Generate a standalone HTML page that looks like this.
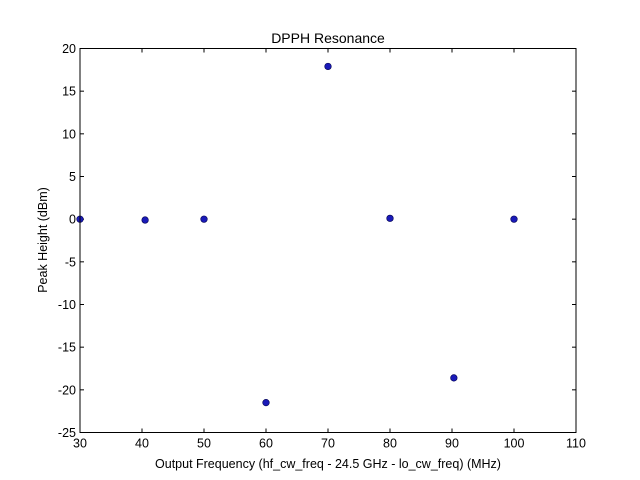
<!DOCTYPE html>
<html><head><meta charset="utf-8"><style>
body{margin:0;background:#fff;}
svg{display:block;font-family:"Liberation Sans",sans-serif;}
</style></head><body>
<svg id="chart" width="640" height="480">
<rect x="0" y="0" width="640" height="480" fill="#fff"/>
<text x="328" y="43" text-anchor="middle" font-size="14">DPPH Resonance</text>
<text x="328" y="468" text-anchor="middle" font-size="12.5">Output Frequency (hf_cw_freq - 24.5 GHz - lo_cw_freq) (MHz)</text>
<text transform="translate(47,240) rotate(-90)" text-anchor="middle" font-size="12.5">Peak Height (dBm)</text>
<g id="ticks"></g>
<g id="points"></g>
<rect x="80" y="48.5" width="496" height="384" fill="none" stroke="#000" stroke-width="1"/>
</svg>
<script>
const xVals=[30,40.5,50,60,70,80,90.3,100];
const yVals=[0,-0.1,0,-21.5,17.9,0.1,-18.6,0];
const xTicks=[30,40,50,60,70,80,90,100,110];
const yTicks=[20,15,10,5,0,-5,-10,-15,-20,-25];
const L=80,R=576,T=48.5,B=432.5;
function sx(v){return L+(v-30)/80*(R-L);}
function sy(v){return T+(20-v)/45*(B-T);}
const NS="http://www.w3.org/2000/svg";
const tg=document.getElementById('ticks');
function mk(tag,attrs,parent){const e=document.createElementNS(NS,tag);for(const k in attrs)e.setAttribute(k,attrs[k]);parent.appendChild(e);return e;}
xTicks.forEach(t=>{
 const x=sx(t);
 const l1=mk('line',{x1:x,x2:x,y1:B,y2:B-4,stroke:'#000'},tg);
 
 
 const l2=mk('line',{x1:x,x2:x,y1:T,y2:T+4,stroke:'#000'},tg);
 
 
 const tx=mk('text',{x:x,y:B+15,'text-anchor':'middle','font-size':'12.5'},tg);
 tx.textContent=t;
 
 
});
yTicks.forEach(t=>{
 const y=sy(t);
 const l1=mk('line',{x1:L,x2:L+4,y1:y,y2:y,stroke:'#000'},tg);
 
 
 const l2=mk('line',{x1:R,x2:R-4,y1:y,y2:y,stroke:'#000'},tg);
 
 
 const tx=mk('text',{x:L-4,y:y+4.5,'text-anchor':'end','font-size':'12.5'},tg);
 tx.textContent=t;
 
 
});
const pg=document.getElementById('points');
xVals.forEach((v,i)=>{
 const c=mk('circle',{cx:sx(v),cy:sy(yVals[i]),r:3.3,fill:'#1a1ab8',stroke:'#000050','stroke-width':0.6},pg);
 
 
});
</script>
</body></html>
